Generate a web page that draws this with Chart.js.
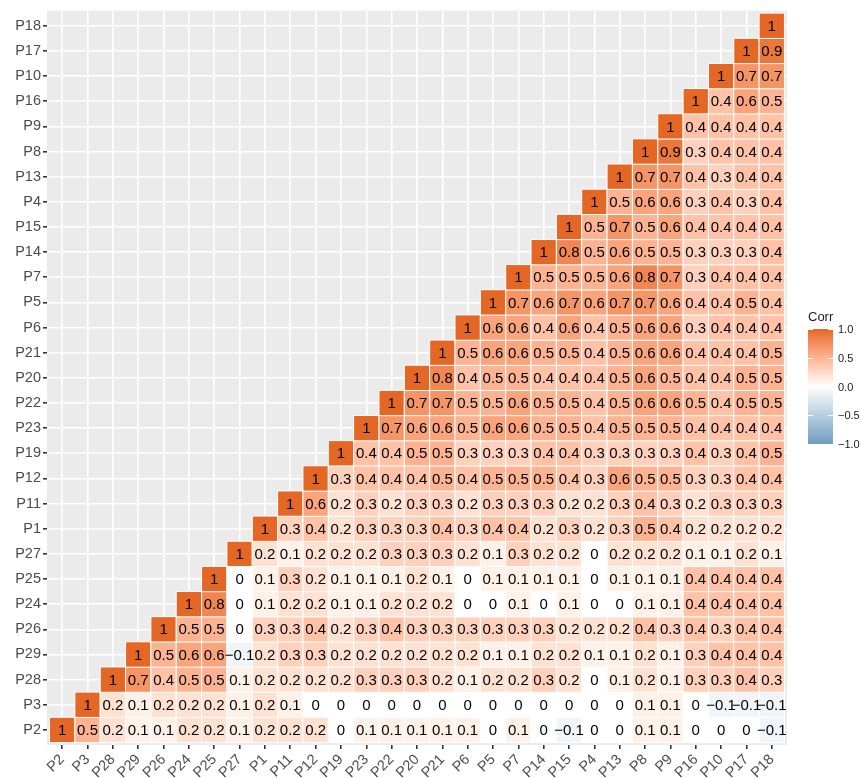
<!DOCTYPE html>
<html>
<head>
<meta charset="utf-8">
<script src="https://cdn.jsdelivr.net/npm/chart.js@4.4.0/dist/chart.umd.min.js"></script>
<style>
html, body { margin: 0; padding: 0; background: #fff; }
#wrap { width: 861px; height: 778px; }
</style>
</head>
<body>
<div id="wrap"><canvas id="chart" width="861" height="778"></canvas></div>
<script>
// variable order, same on both axes (x left to right, y bottom to top)
const vars = ["P2", "P3", "P28", "P29", "P26", "P24", "P25", "P27", "P1", "P11", "P12", "P19", "P23", "P22",
	"P20", "P21", "P6", "P5", "P7", "P14", "P15", "P4", "P13", "P8", "P9", "P16", "P10", "P17", "P18"];

// each row: correlation of that variable with itself and with every variable after it in vars
const rowP2 = [1, 0.5, 0.2, 0.1, 0.1, 0.2, 0.2, 0.1, 0.2, 0.2, 0.2, 0, 0.1, 0.1, 0.1, 0.1, 0.1, 0, 0.1, 0, -0.1, 0, 0, 0.1, 0.1, 0, 0, 0, -0.1];
const rowP3 = [1, 0.2, 0.1, 0.2, 0.2, 0.2, 0.1, 0.2, 0.1, 0, 0, 0, 0, 0, 0, 0, 0, 0, 0, 0, 0, 0, 0.1, 0.1, 0, -0.1, -0.1, -0.1];
const rowP28 = [1, 0.7, 0.4, 0.5, 0.5, 0.1, 0.2, 0.2, 0.2, 0.2, 0.3, 0.3, 0.3, 0.2, 0.1, 0.2, 0.2, 0.3, 0.2, 0, 0.1, 0.2, 0.1, 0.3, 0.3, 0.4, 0.3];
const rowP29 = [1, 0.5, 0.6, 0.6, -0.1, 0.2, 0.3, 0.3, 0.2, 0.2, 0.2, 0.2, 0.2, 0.2, 0.1, 0.1, 0.2, 0.2, 0.1, 0.1, 0.2, 0.1, 0.3, 0.4, 0.4, 0.4];
const rowP26 = [1, 0.5, 0.5, 0, 0.3, 0.3, 0.4, 0.2, 0.3, 0.4, 0.3, 0.3, 0.3, 0.3, 0.3, 0.3, 0.2, 0.2, 0.2, 0.4, 0.3, 0.4, 0.3, 0.4, 0.4];
const rowP24 = [1, 0.8, 0, 0.1, 0.2, 0.2, 0.1, 0.1, 0.2, 0.2, 0.2, 0, 0, 0.1, 0, 0.1, 0, 0, 0.1, 0.1, 0.4, 0.4, 0.4, 0.4];
const rowP25 = [1, 0, 0.1, 0.3, 0.2, 0.1, 0.1, 0.1, 0.2, 0.1, 0, 0.1, 0.1, 0.1, 0.1, 0, 0.1, 0.1, 0.1, 0.4, 0.4, 0.4, 0.4];
const rowP27 = [1, 0.2, 0.1, 0.2, 0.2, 0.2, 0.3, 0.3, 0.3, 0.2, 0.1, 0.3, 0.2, 0.2, 0, 0.2, 0.2, 0.2, 0.1, 0.1, 0.2, 0.1];
const rowP1 = [1, 0.3, 0.4, 0.2, 0.3, 0.3, 0.3, 0.4, 0.3, 0.4, 0.4, 0.2, 0.3, 0.2, 0.3, 0.5, 0.4, 0.2, 0.2, 0.2, 0.2];
const rowP11 = [1, 0.6, 0.2, 0.3, 0.2, 0.3, 0.3, 0.2, 0.3, 0.3, 0.3, 0.2, 0.2, 0.3, 0.4, 0.3, 0.2, 0.3, 0.3, 0.3];
const rowP12 = [1, 0.3, 0.4, 0.4, 0.4, 0.5, 0.4, 0.5, 0.5, 0.5, 0.4, 0.3, 0.6, 0.5, 0.5, 0.3, 0.3, 0.4, 0.4];
const rowP19 = [1, 0.4, 0.4, 0.5, 0.5, 0.3, 0.3, 0.3, 0.4, 0.4, 0.3, 0.3, 0.3, 0.3, 0.4, 0.3, 0.4, 0.5];
const rowP23 = [1, 0.7, 0.6, 0.6, 0.5, 0.6, 0.6, 0.5, 0.5, 0.4, 0.5, 0.5, 0.5, 0.4, 0.4, 0.4, 0.4];
const rowP22 = [1, 0.7, 0.7, 0.5, 0.5, 0.6, 0.5, 0.5, 0.4, 0.5, 0.6, 0.6, 0.5, 0.4, 0.5, 0.5];
const rowP20 = [1, 0.8, 0.4, 0.5, 0.5, 0.4, 0.4, 0.4, 0.5, 0.6, 0.5, 0.4, 0.4, 0.5, 0.5];
const rowP21 = [1, 0.5, 0.6, 0.6, 0.5, 0.5, 0.4, 0.5, 0.6, 0.6, 0.4, 0.4, 0.4, 0.5];
const rowP6 = [1, 0.6, 0.6, 0.4, 0.6, 0.4, 0.5, 0.6, 0.6, 0.3, 0.4, 0.4, 0.4];
const rowP5 = [1, 0.7, 0.6, 0.7, 0.6, 0.7, 0.7, 0.6, 0.4, 0.4, 0.5, 0.4];
const rowP7 = [1, 0.5, 0.5, 0.5, 0.6, 0.8, 0.7, 0.3, 0.4, 0.4, 0.4];
const rowP14 = [1, 0.8, 0.5, 0.6, 0.5, 0.5, 0.3, 0.3, 0.3, 0.4];
const rowP15 = [1, 0.5, 0.7, 0.5, 0.6, 0.4, 0.4, 0.4, 0.4];
const rowP4 = [1, 0.5, 0.6, 0.6, 0.3, 0.4, 0.3, 0.4];
const rowP13 = [1, 0.7, 0.7, 0.4, 0.3, 0.4, 0.4];
const rowP8 = [1, 0.9, 0.3, 0.4, 0.4, 0.4];
const rowP9 = [1, 0.4, 0.4, 0.4, 0.4];
const rowP16 = [1, 0.4, 0.6, 0.5];
const rowP10 = [1, 0.7, 0.7];
const rowP17 = [1, 0.9];
const rowP18 = [1];

const rows = [rowP2, rowP3, rowP28, rowP29, rowP26, rowP24, rowP25, rowP27, rowP1, rowP11, rowP12, rowP19, rowP23,
	rowP22, rowP20, rowP21, rowP6, rowP5, rowP7, rowP14, rowP15, rowP4, rowP13, rowP8, rowP9, rowP16, rowP10, rowP17, rowP18];

const legendTicks = [1, 0.5, 0, -0.5, -1];

const lowColor = "#6D9EC1";
const midColor = "#FFFFFF";
const highColor = "#E46726";
const fontFamily = "'Liberation Sans', Arial, sans-serif";

// colours are blended in Lab space, as ggplot's gradient2 does
function toLinear(c) {
	c /= 255;
	return c <= 0.04045 ? c / 12.92 : Math.pow((c + 0.055) / 1.055, 2.4);
}
function toSrgb(c) {
	c = c <= 0.0031308 ? 12.92 * c : 1.055 * Math.pow(Math.max(c, 0), 1 / 2.4) - 0.055;
	return Math.round(Math.min(1, Math.max(0, c)) * 255);
}
function hexToLab(hex) {
	const r = toLinear(parseInt(hex.slice(1, 3), 16));
	const g = toLinear(parseInt(hex.slice(3, 5), 16));
	const b = toLinear(parseInt(hex.slice(5, 7), 16));
	const x = (0.4124 * r + 0.3576 * g + 0.1805 * b) / 0.95047;
	const y = 0.2126 * r + 0.7152 * g + 0.0722 * b;
	const z = (0.0193 * r + 0.1192 * g + 0.9505 * b) / 1.08883;
	const f = t => t > 0.008856 ? Math.cbrt(t) : 7.787 * t + 16 / 116;
	return [116 * f(y) - 16, 500 * (f(x) - f(y)), 200 * (f(y) - f(z))];
}
function labToRgb(lab) {
	const fy = (lab[0] + 16) / 116;
	const fx = fy + lab[1] / 500;
	const fz = fy - lab[2] / 200;
	const inv = t => t * t * t > 0.008856 ? t * t * t : (t - 16 / 116) / 7.787;
	const x = inv(fx) * 0.95047, y = inv(fy), z = inv(fz) * 1.08883;
	const r = 3.2406 * x - 1.5372 * y - 0.4986 * z;
	const g = -0.9689 * x + 1.8758 * y + 0.0415 * z;
	const b = 0.0557 * x - 0.2040 * y + 1.0570 * z;
	return "rgb(" + toSrgb(r) + "," + toSrgb(g) + "," + toSrgb(b) + ")";
}
const labLow = hexToLab(lowColor), labMid = hexToLab(midColor), labHigh = hexToLab(highColor);
function corrColor(v) {
	const end = v >= 0 ? labHigh : labLow;
	const t = Math.min(1, Math.abs(v));
	return labToRgb(labMid.map((m, i) => m + (end[i] - m) * t));
}

function formatCorr(v) {
	if (v === 0) return "0";
	if (v === 1) return "1";
	return (v < 0 ? "\u2212" : "") + Math.abs(v).toFixed(1);
}

const cells = [];
rows.forEach((row, r) => {
	row.forEach((v, k) => {
		cells.push({x: r + k, y: r, v: v});
	});
});

function cellRadius(ctx) {
	const s = ctx.chart.scales.x;
	return Math.abs(s.getPixelForValue(1) - s.getPixelForValue(0)) / Math.SQRT2;
}

const panelBackground = {
	id: "panelBackground",
	beforeDraw(chart) {
		const {ctx, chartArea} = chart;
		ctx.save();
		ctx.fillStyle = "#EBEBEB";
		ctx.fillRect(chartArea.left, chartArea.top, chartArea.right - chartArea.left, chartArea.bottom - chartArea.top);
		ctx.restore();
	}
};

const cellLabels = {
	id: "cellLabels",
	afterDatasetsDraw(chart) {
		const {ctx} = chart;
		const meta = chart.getDatasetMeta(0);
		ctx.save();
		ctx.font = "15px " + fontFamily;
		ctx.fillStyle = "#000";
		ctx.textAlign = "center";
		ctx.textBaseline = "middle";
		meta.data.forEach((pt, i) => {
			ctx.fillText(formatCorr(cells[i].v), pt.x, pt.y + 1);
		});
		ctx.restore();
	}
};

const colorBar = {
	id: "colorBar",
	afterDraw(chart) {
		const {ctx} = chart;
		const left = 808, width = 25, top = 329, bottom = 444;
		const yFor = v => top + (1 - v) / 2 * (bottom - top);
		ctx.save();
		const grad = ctx.createLinearGradient(0, top, 0, bottom);
		for (let i = 0; i <= 40; i++) {
			grad.addColorStop(i / 40, corrColor(1 - i / 20));
		}
		ctx.fillStyle = grad;
		ctx.fillRect(left, top, width, bottom - top);
		ctx.strokeStyle = "#fff";
		ctx.lineWidth = 1;
		legendTicks.forEach(v => {
			const y = Math.round(yFor(v)) + 0.5;
			ctx.beginPath();
			ctx.moveTo(left, y);
			ctx.lineTo(left + 5, y);
			ctx.moveTo(left + width - 5, y);
			ctx.lineTo(left + width, y);
			ctx.stroke();
		});
		ctx.fillStyle = "#1a1a1a";
		ctx.font = "13px " + fontFamily;
		ctx.textAlign = "left";
		ctx.textBaseline = "alphabetic";
		ctx.fillText("Corr", 808, 321);
		ctx.font = "11px " + fontFamily;
		ctx.textBaseline = "middle";
		legendTicks.forEach(v => {
			ctx.fillText((v < 0 ? "\u2212" : "") + Math.abs(v).toFixed(1), 838, yFor(v) + 1);
		});
		ctx.restore();
	}
};

const tickFont = {family: fontFamily, size: 14.5};

function categoryAxis(fitFn, rotation) {
	return {
		type: "linear",
		min: -0.6,
		max: vars.length - 0.4,
		afterBuildTicks: s => { s.ticks = vars.map((_, i) => ({value: i})); },
		afterFit: fitFn,
		ticks: {
			callback: v => vars[v],
			autoSkip: false,
			minRotation: rotation,
			maxRotation: rotation,
			color: "#4D4D4D",
			font: tickFont,
			padding: 2
		},
		grid: {color: "#FFFFFF", lineWidth: 1.6, tickColor: "#333333", tickLength: 4},
		border: {display: false}
	};
}

new Chart(document.getElementById("chart"), {
	type: "scatter",
	data: {
		datasets: [{
			data: cells,
			pointStyle: "rect",
			pointRadius: cellRadius,
			pointBackgroundColor: ctx => corrColor(ctx.raw.v),
			pointBorderColor: "#FFFFFF",
			pointBorderWidth: 1
		}]
	},
	options: {
		responsive: false,
		animation: false,
		events: [],
		layout: {padding: {top: 6, right: 74, left: 0, bottom: 0}},
		plugins: {legend: {display: false}, tooltip: {enabled: false}},
		scales: {
			x: categoryAxis(s => { s.height = 33; }, 45),
			y: categoryAxis(s => { s.width = 47; }, 0)
		}
	},
	plugins: [panelBackground, cellLabels, colorBar]
});
</script>
</body>
</html>
